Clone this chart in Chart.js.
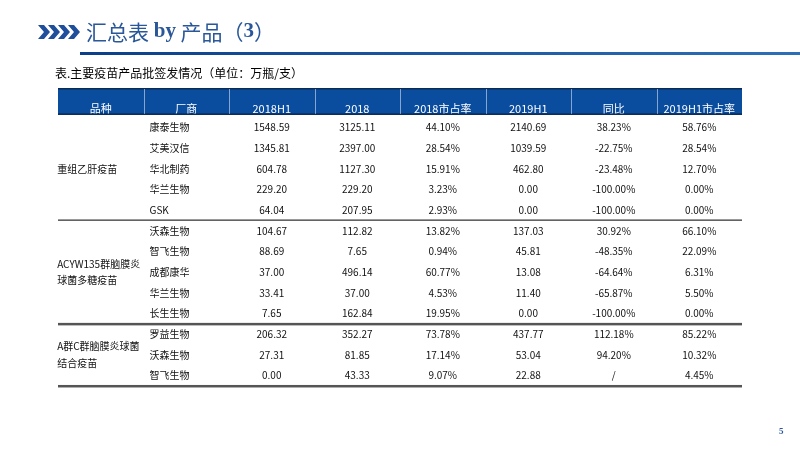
<!DOCTYPE html>
<html><head><meta charset="utf-8">
<script src="https://cdn.jsdelivr.net/npm/chart.js@4/dist/chart.umd.min.js"></script>
<style>html,body{margin:0;padding:0;background:#fff}#c{display:block}</style>
</head><body>
<div style="width:800px;height:450px"><canvas id="c" width="800" height="450"></canvas></div>
<script>
const headers = ['品种','厂商','2018H1','2018','2018市占率','2019H1','同比','2019H1市占率'];
const groups = ['重组乙肝疫苗','ACYW135群脑膜炎|球菌多糖疫苗','A群C群脑膜炎球菌|结合疫苗'];
const groupRows = [[1,5],[6,10],[11,13]];
const makers = ['康泰生物','艾美汉信','华北制药','华兰生物','GSK','沃森生物','智飞生物','成都康华','华兰生物','长生生物','罗益生物','沃森生物','智飞生物'];
const v2018H1 = ['1548.59','1345.81','604.78','229.20','64.04','104.67','88.69','37.00','33.41','7.65','206.32','27.31','0.00'];
const v2018 = ['3125.11','2397.00','1127.30','229.20','207.95','112.82','7.65','496.14','37.00','162.84','352.27','81.85','43.33'];
const share2018 = ['44.10%','28.54%','15.91%','3.23%','2.93%','13.82%','0.94%','60.77%','4.53%','19.95%','73.78%','17.14%','9.07%'];
const v2019H1 = ['2140.69','1039.59','462.80','0.00','0.00','137.03','45.81','13.08','11.40','0.00','437.77','53.04','22.88'];
const yoy = ['38.23%','-22.75%','-23.48%','-100.00%','-100.00%','30.92%','-48.35%','-64.64%','-65.87%','-100.00%','112.18%','94.20%','/'];
const share2019 = ['58.76%','28.54%','12.70%','0.00%','0.00%','66.10%','22.09%','6.31%','5.50%','0.00%','85.22%','10.32%','4.45%'];
const cols = [v2018H1, v2018, share2018, v2019H1, yoy, share2019];

const pts = [];
makers.forEach((m,i)=>{ for(let c=0;c<8;c++) pts.push({x:c+0.5,y:i+1}); });

const cjk = '"Noto Sans CJK SC", sans-serif';
const tablePlugin = {
  id:'table',
  afterDraw(chart){
    const ctx = chart.ctx, xs = chart.scales.x, ys = chart.scales.y;
    const X = v=>xs.getPixelForValue(v), Y = v=>ys.getPixelForValue(v);
    ctx.save();
    ctx.fillStyle='#1F4E9A';
    for(let k=0;k<4;k++){
      const x0=38+k*10;
      ctx.beginPath();ctx.moveTo(x0,25);ctx.lineTo(x0+6,25);ctx.lineTo(x0+12,32);ctx.lineTo(x0+6,39);ctx.lineTo(x0,39);ctx.lineTo(x0+6,32);ctx.closePath();ctx.fill();
    }
    ctx.textBaseline='middle';
    ctx.fillStyle='#2A579A';
    let tx=86;
    const parts=[['汇总表 ','21px '+cjk],['by','bold 21px "Liberation Serif"'],[' 产品（','21px '+cjk],['3','bold 21px "Liberation Serif"'],['）','21px '+cjk]];
    parts.forEach(([t,f])=>{ctx.font=f;ctx.fillText(t,tx,32);tx+=ctx.measureText(t).width;});
    const g=ctx.createLinearGradient(80,0,800,0);
    g.addColorStop(0,'#0B3F8A');g.addColorStop(1,'#2C6FB8');
    ctx.fillStyle=g; ctx.fillRect(80,52,720,3);
    ctx.fillStyle='#000'; ctx.font='12px '+cjk; ctx.fillText('表.主要疫苗产品批签发情况（单位：万瓶/支）',55,73);
    const hx0=X(0), hx1=X(8), hy0=Y(-0.9), hy1=Y(0.4);
    ctx.fillStyle='#0A4C9E'; ctx.fillRect(hx0,hy0,hx1-hx0,hy1-hy0);
    ctx.fillStyle='#0B2A55'; ctx.fillRect(hx0,hy0,hx1-hx0,1.5); ctx.fillRect(hx0,hy1-1.5,hx1-hx0,1.5);
    ctx.strokeStyle='rgba(255,255,255,0.5)'; ctx.lineWidth=1;
    for(let c=1;c<8;c++){ctx.beginPath();ctx.moveTo(Math.round(X(c))+0.5,hy0+1);ctx.lineTo(Math.round(X(c))+0.5,hy1-1);ctx.stroke();}
    ctx.save(); ctx.beginPath(); ctx.rect(hx0,hy0,hx1-hx0,hy1-hy0-1.5); ctx.clip();
    ctx.fillStyle='#fff'; ctx.textAlign='center'; ctx.font='11px '+cjk;
    headers.forEach((h,c)=>ctx.fillText(h,X(c+0.5),Y(0.12)));
    ctx.restore();
    ctx.fillStyle='#111'; ctx.font='10px '+cjk;
    makers.forEach((m,i)=>{
      ctx.textAlign='left'; ctx.fillText(m,X(1.07),Y(i+1));
      ctx.textAlign='center';
      cols.forEach((arr,c)=>ctx.fillText(arr[i],X(c+2.5),Y(i+1)));
    });
    groups.forEach((gname,k)=>{
      const [a,b]=groupRows[k]; const lines=gname.split('|'); const mid=(a+b)/2;
      ctx.textAlign='left';
      lines.forEach((ln,j)=>ctx.fillText(ln,X(-0.01),Y(mid+(j-(lines.length-1)/2)*0.8)));
      const ly=Y(b+0.45);
      ctx.fillStyle='#555'; ctx.fillRect(hx0,ly,hx1-hx0,k==0?1.5:2.5); ctx.fillStyle='#111';
    });
    ctx.fillStyle='#2A579A'; ctx.font='bold 9px "Liberation Serif"'; ctx.textAlign='left'; ctx.fillText('5',779,432);
    ctx.restore();
  }
};

new Chart(document.getElementById('c'),{
  type:'scatter',
  data:{datasets:[{data:pts,pointRadius:0,pointHoverRadius:0}]},
  options:{
    responsive:false,animation:false,events:[],
    layout:{padding:{left:58,right:58,top:88,bottom:64}},
    plugins:{legend:{display:false},tooltip:{enabled:false}},
    scales:{
      x:{type:'linear',min:0,max:8,display:false},
      y:{type:'linear',min:-0.9,max:13.5,reverse:true,display:false}
    }
  },
  plugins:[tablePlugin]
});
</script>
</body></html>
